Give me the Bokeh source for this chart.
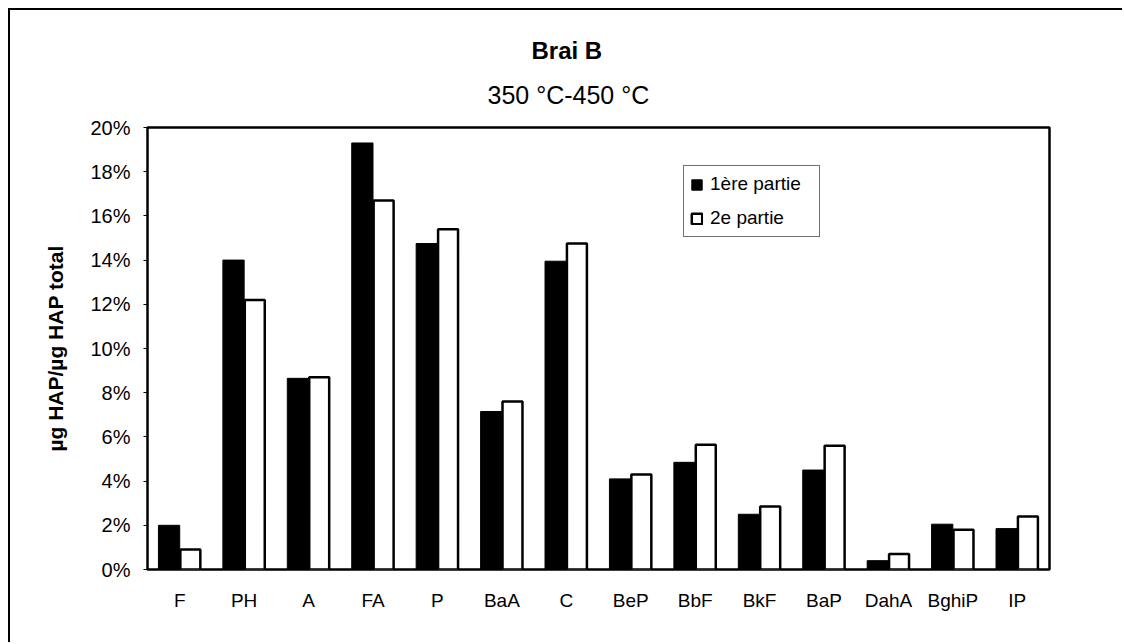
from bokeh.plotting import figure
from bokeh.models import (ColumnDataSource, FixedTicker, PrintfTickFormatter, Title,
                          Legend, LegendItem)
from bokeh.transform import dodge
from bokeh.embed import file_html
from bokeh.resources import INLINE

categories = ["F", "PH", "A", "FA", "P", "BaA", "C", "BeP", "BbF", "BkF", "BaP", "DahA", "BghiP", "IP"]
part1 = [2.0, 14.0, 8.65, 19.3, 14.75, 7.15, 13.95, 4.1, 4.85, 2.5, 4.5, 0.4, 2.05, 1.85]
part2 = [0.9, 12.2, 8.7, 16.7, 15.4, 7.6, 14.75, 4.3, 5.65, 2.85, 5.6, 0.7, 1.8, 2.4]
y_ticks = [0, 2, 4, 6, 8, 10, 12, 14, 16, 18, 20]
series_names = ["1ère partie", "2e partie"]
title_text = "Brai B"
subtitle_text = "350 °C-450 °C"
y_label = "µg HAP/µg HAP total"

FONT = "Liberation Sans"
W, H = 1114, 634

src = ColumnDataSource(dict(cat=categories, p1=part1, p2=part2))

p = figure(x_range=categories, y_range=(0, 20), width=W, height=H,
           output_backend="svg", toolbar_location=None,
           min_border_left=137, min_border_right=75, min_border_top=117, min_border_bottom=75)
p.styles = {"border-top": "2px solid black", "border-left": "2px solid black",
            "margin-top": "8px", "margin-left": "8px"}

r1 = p.vbar(x=dodge("cat", -0.165, range=p.x_range), top="p1", width=0.33, source=src,
            fill_color="black", line_color="black", line_width=1)
r2 = p.vbar(x=dodge("cat", 0.165, range=p.x_range), top="p2", width=0.31, source=src,
            fill_color="white", line_color="black", line_width=2.5)

p.xgrid.grid_line_color = None
p.ygrid.grid_line_color = None
p.outline_line_color = "black"
p.outline_line_width = 2.5
p.outline_line_alpha = 1
p.background_fill_color = "white"
p.border_fill_color = "white"

p.yaxis.ticker = FixedTicker(ticks=y_ticks)
p.yaxis.formatter = PrintfTickFormatter(format="%d%%")
p.yaxis.axis_line_color = None
p.yaxis.major_tick_out = 4
p.yaxis.major_tick_in = 0
p.yaxis.minor_tick_line_color = None
p.yaxis.major_tick_line_color = "black"
p.yaxis.major_label_standoff = 13
p.yaxis.major_label_text_font = FONT
p.yaxis.major_label_text_font_size = "20px"
p.yaxis.major_label_text_color = "black"
p.yaxis.axis_label = y_label
p.yaxis.axis_label_text_font = FONT
p.yaxis.axis_label_text_font_size = "21px"
p.yaxis.axis_label_text_font_style = "bold"
p.yaxis.axis_label_text_color = "black"
p.yaxis.axis_label_standoff = 20

p.xaxis.axis_line_color = None
p.xaxis.major_tick_line_color = None
p.xaxis.minor_tick_line_color = None
p.xaxis.major_label_standoff = 14
p.xaxis.major_label_text_font = FONT
p.xaxis.major_label_text_font_size = "19px"
p.xaxis.major_label_text_color = "black"

p.add_layout(Title(text=subtitle_text, align="left", offset=340, vertical_align="top",
                   standoff=34, text_font=FONT, text_font_size="25px",
                   text_font_style="normal", text_color="black"), "above")
p.add_layout(Title(text=title_text, align="left", offset=384, vertical_align="bottom",
                   standoff=0, text_font=FONT, text_font_size="24px",
                   text_font_style="bold", text_color="black"), "above")

legend = Legend(items=[LegendItem(label=series_names[0], renderers=[r1]),
                       LegendItem(label=series_names[1], renderers=[r2])],
                location=(536, 332))
legend.label_text_font = FONT
legend.label_text_font_size = "19px"
legend.label_text_color = "black"
legend.glyph_width = 13
legend.glyph_height = 13
legend.label_standoff = 7
legend.label_width = 103
legend.label_height = 24
legend.spacing = 10
legend.padding = 6
legend.margin = 0
legend.border_line_color = "#333333"
legend.border_line_width = 1
legend.border_line_alpha = 0.7
legend.background_fill_color = "white"
p.add_layout(legend, "center")

open("out.html", "w").write(file_html(p, INLINE))
